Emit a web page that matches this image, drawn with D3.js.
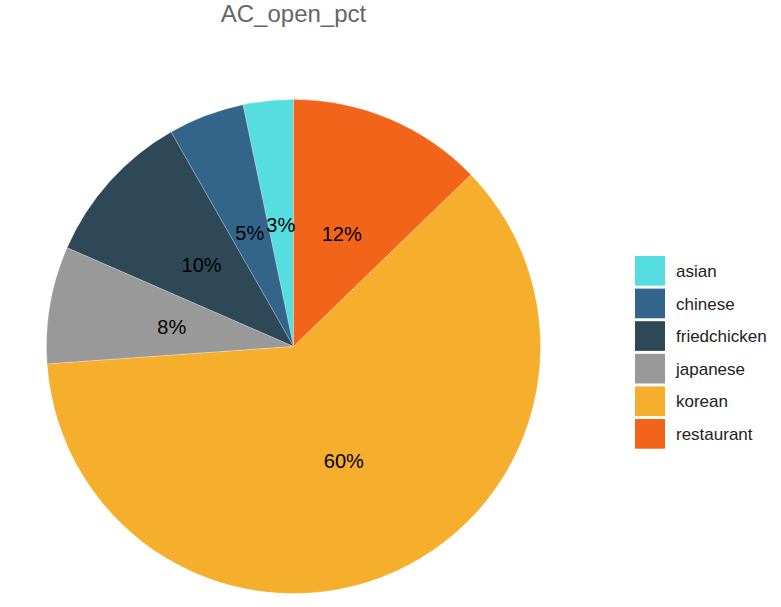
<!DOCTYPE html>
<html><head><meta charset="utf-8">
<script src="https://cdn.jsdelivr.net/npm/d3@7"></script>
<style>body{margin:0;background:#fff}svg{display:block}</style>
</head><body>
<svg id="c" width="781" height="607"></svg>
<script>
const categories = ["asian","chinese","friedchicken","japanese","korean","restaurant"];
const values = [3.28, 4.97, 10.2, 7.67, 61.1, 12.75];
const pctLabels = ["3%","5%","10%","8%","60%","12%"];
const colors = ["#55dde0","#33658a","#2f4858","#999999","#f6ae2d","#f26419"];
const title = "AC_open_pct";

const svg = d3.select("#c");
const cx = 293.5, cy = 346.5, R = 247;
const color = d3.scaleOrdinal().domain(categories).range(colors);
const data = categories.map((c,i)=>({cat:c, v:values[i], label:pctLabels[i]}));
// counterclockwise from 12 o'clock
const pie = d3.pie().sort(null).value(d=>d.v).startAngle(0).endAngle(-2*Math.PI);
const arcs = pie(data);
const arc = d3.arc().innerRadius(0).outerRadius(R);
const g = svg.append("g").attr("transform",`translate(${cx},${cy})`);
g.selectAll("path").data(arcs).join("path")
  .attr("d",arc).attr("fill",d=>color(d.data.cat))
  .attr("stroke","#ffffff").attr("stroke-width",0.4).attr("stroke-opacity",0.6);
const labelArc = d3.arc().innerRadius(R*0.5).outerRadius(R*0.5);
g.selectAll("text").data(arcs).join("text")
  .attr("transform",d=>{const [x,y]=labelArc.centroid(d);return `translate(${x},${y+1.5})`;})
  .attr("text-anchor","middle").attr("dy","0.35em")
  .attr("font-family","Liberation Sans, Arial, sans-serif").attr("font-size",20)
  .attr("fill","#000").text(d=>d.data.label);

svg.append("text").attr("x",cx).attr("y",22).attr("text-anchor","middle")
  .attr("font-family","Liberation Sans, Arial, sans-serif").attr("font-size",24)
  .attr("fill","#666").text(title);

const legend = svg.append("g").attr("transform","translate(635,256)");
const rowY = d3.scaleBand().domain(categories).range([0, 32.6*categories.length]);
const items = legend.selectAll("g").data(categories).join("g")
  .attr("transform",d=>`translate(0,${rowY(d)})`);
items.append("rect").attr("width",30).attr("height",29.7).attr("fill",d=>color(d));
items.append("text").attr("x",41).attr("y",15).attr("dy","0.35em")
  .attr("font-family","Liberation Sans, Arial, sans-serif").attr("font-size",17)
  .attr("fill","#222").text(d=>d);
</script>
</body></html>
